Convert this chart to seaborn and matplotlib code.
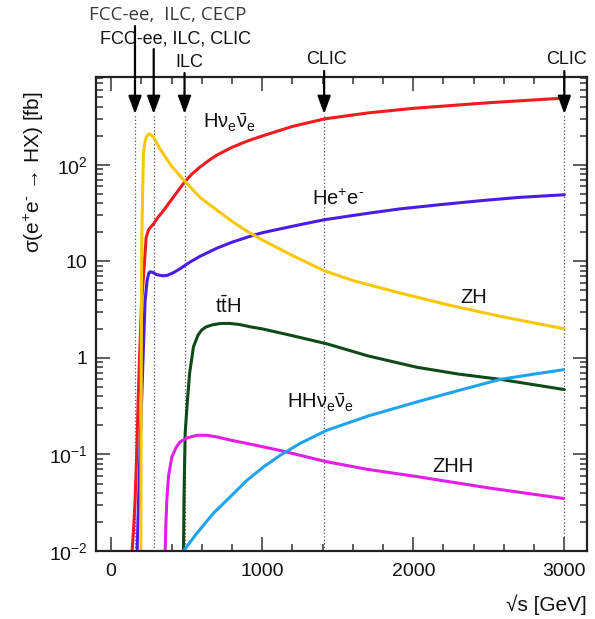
import numpy as np
import pandas as pd
import matplotlib
matplotlib.use("Agg")
import matplotlib.pyplot as plt
import seaborn as sns
from matplotlib.ticker import FixedLocator, FixedFormatter, MultipleLocator, LogLocator, NullFormatter

# ---- cross sections vs. centre-of-mass energy (GeV, fb) ----
hvv_s = [139, 150, 159, 170, 179, 190, 202, 214, 232, 247, 260, 280, 310, 346, 413, 485, 530, 589,
         650, 700, 800, 900, 1000, 1200, 1411, 1700, 2000, 2500, 3000]
hvv_sigma = [0.01, 0.018, 0.034, 0.11, 0.364, 1.2, 3.93, 6.84, 17.7, 21.0, 22.5, 24.4, 28.5, 33.5, 46.5, 66, 79, 95,
             112, 126, 152, 176, 199, 250, 299, 345, 385, 440, 492]

hee_s = [172, 182, 192, 202, 214, 225, 238, 250, 258, 275, 300, 340, 369, 410, 457, 520, 589,
         700, 800, 920, 1000, 1100, 1250, 1411, 1700, 1914, 2200, 2444, 2700, 3000]
hee_sigma = [0.01, 0.034, 0.12, 0.364, 1.3, 3.93, 6.3, 7.6, 7.8, 7.7, 7.3, 7.1, 7.15, 7.6, 8.4, 9.8, 11.3,
             13.7, 15.8, 18.2, 19.8, 21.4, 24, 27, 31.5, 35, 39, 42.5, 46, 49]

zh_s = [197, 199, 201, 205, 214, 225, 236, 254, 280, 325, 400, 485, 589, 700, 800, 900, 1000,
        1200, 1411, 1605, 1914, 2245, 2576, 3000]
zh_sigma = [0.01, 0.3, 6.8, 26, 129, 177, 199, 210, 195, 145, 97, 68.4, 45.9, 34, 26, 20.5, 16.7,
            11.5, 8.0, 6.3, 4.7, 3.5, 2.7, 2.0]

tth_s = [479, 483, 490, 505, 520, 545, 575, 600, 630, 670, 720, 780, 850, 921, 1000, 1200, 1428, 1700,
         2024, 2300, 2576, 3000]
tth_sigma = [0.01, 0.04, 0.165, 0.36, 0.7, 1.3, 1.72, 1.95, 2.1, 2.2, 2.27, 2.28, 2.22, 2.1, 2.0, 1.7, 1.4, 1.05,
             0.80, 0.68, 0.60, 0.47]

zhh_s = [358, 362, 369, 380, 402, 430, 457, 500, 568, 634, 700, 788, 921, 1119, 1428, 1700, 2024,
         2500, 2995]
zhh_sigma = [0.01, 0.018, 0.034, 0.06, 0.094, 0.118, 0.135, 0.148, 0.158, 0.158, 0.152, 0.141, 0.128,
             0.11, 0.084, 0.07, 0.059, 0.045, 0.035]

hhvv_s = [479, 568, 677, 788, 899, 1009, 1119, 1250, 1428, 1700, 2024, 2300, 2576, 2800, 2995]
hhvv_sigma = [0.01, 0.0153, 0.0246, 0.0363, 0.054, 0.0743, 0.098, 0.13, 0.178, 0.25, 0.35, 0.46, 0.6,
              0.68, 0.755]

processes = ["Hvv", "Hee", "ZH", "ttH", "ZHH", "HHvv"]
colors = {"Hvv": "#ef1b1f", "Hee": "#4a1de6", "ZH": "#f7c70c",
          "ttH": "#0f4a18", "ZHH": "#e31ee6", "HHvv": "#1fa3ec"}

# collider energies marked with arrows
marker_energies = [158, 282, 486, 1410, 3000]
marker_texts = ["FCC-ee, ILC, CLIC", "ILC", "CLIC", "CLIC"]
marker_text_x = [424, 520, 1427, 3013]
top_text = "FCC-ee,  ILC, CECP"

y_tick_vals = [1e-2, 1e-1, 1, 10, 100]
y_tick_labels = [r"$\mathregular{10^{-2}}$", r"$\mathregular{10^{-1}}$", "1", "10",
                 r"$\mathregular{10^{2}}$"]

curve_labels = [
    (r"H$\mathregular{\nu_e\bar{\nu}_e}$", 609, 10**2.372),
    ("He$\\mathregular{^{+}}$e$^{\\text{-}}$", 1331, 10**1.583),
    ("ZH", 2311, 10**0.566),
    (r"t$\mathregular{\bar{t}}$H", 689, 10**0.47),
    (r"HH$\mathregular{\nu_e\bar{\nu}_e}$", 1166, 10**-0.525),
    ("ZHH", 2126, 10**-1.18),
]

series = {"Hvv": (hvv_s, hvv_sigma), "Hee": (hee_s, hee_sigma), "ZH": (zh_s, zh_sigma),
          "ttH": (tth_s, tth_sigma), "ZHH": (zhh_s, zhh_sigma), "HHvv": (hhvv_s, hhvv_sigma)}
df = pd.concat([pd.DataFrame({"sqrt_s": series[p][0], "sigma": series[p][1], "process": p})
                for p in processes], ignore_index=True)

sns.set_theme(style="ticks")
plt.rcParams["font.family"] = ["Liberation Sans", "DejaVu Sans"]
plt.rcParams["mathtext.fontset"] = "custom"
plt.rcParams["mathtext.rm"] = "Liberation Sans"
plt.rcParams["mathtext.it"] = "Liberation Sans:italic"
plt.rcParams["mathtext.bf"] = "Liberation Sans:bold"

fig = plt.figure(figsize=(5.95, 6.19), dpi=100)
ax = fig.add_axes([96 / 595, 1 - 551 / 619, 491 / 595, 474 / 619])
ax.set_yscale("log")

sns.lineplot(data=df, x="sqrt_s", y="sigma", hue="process", hue_order=processes,
             palette=colors, estimator=None, sort=False, legend=False,
             linewidth=2.2, ax=ax)

ax.set_xlim(-100, 3150)
ax.set_ylim(1e-2, 10**2.91)

ax.xaxis.set_major_locator(FixedLocator([0, 1000, 2000, 3000]))
ax.xaxis.set_minor_locator(MultipleLocator(200))
ax.yaxis.set_major_locator(FixedLocator(y_tick_vals))
ax.yaxis.set_major_formatter(FixedFormatter(y_tick_labels))
ax.yaxis.set_minor_locator(LogLocator(base=10, subs=np.arange(2, 10), numticks=20))
ax.yaxis.set_minor_formatter(NullFormatter())
ax.tick_params(which="both", direction="in", top=True, right=True,
               color="#333333", width=1.1, labelsize=14, labelcolor="#111111")
ax.tick_params(which="major", length=10)
ax.tick_params(which="minor", length=5)
ax.tick_params(axis="x", pad=9)
ax.tick_params(axis="y", pad=6)
for sp in ax.spines.values():
    sp.set_color("#222222")
    sp.set_linewidth(1.6)

ax.set_xlabel("√s [GeV]", fontsize=15, color="#111111")
ax.xaxis.label.set_ha("right")
ax.xaxis.label.set_va("center")
ax.xaxis.set_label_coords(1.0, -0.114)
ax.set_ylabel("σ(e$\\mathregular{^{+}}$e$^{\\text{-}}$ → HX) [fb]", fontsize=15, color="#111111")
ax.yaxis.label.set_va("center")
ax.yaxis.set_label_coords(-0.126, 0.80)

# dotted energy markers and arrows
tip = 10**2.527
ax.vlines(marker_energies, 1e-2, tip, colors="#555555", linestyles=(0, (1, 1.8)), lw=0.9, zorder=1)
tails = [10**3.437, 10**3.199, 10**2.951, 10**2.972, 10**2.972]
for e, t in zip(marker_energies, tails):
    ax.annotate("", xy=(e, tip), xytext=(e, t), annotation_clip=False,
                arrowprops=dict(arrowstyle="-|>,head_length=0.9,head_width=0.33",
                                color="black", lw=1.6, shrinkA=0, shrinkB=0))

ax.text(374, 10**3.55, top_text, ha="center", va="center", fontsize=13.5,
        family=["Open Sans", "DejaVu Sans"], color="#3a3a3a", clip_on=False)
ys_marker = [10**3.302, 10**3.065, 10**3.096, 10**3.096]
for txt, xv, yv in zip(marker_texts, marker_text_x, ys_marker):
    ax.text(xv, yv, txt, ha="center", va="center", fontsize=13, color="#111111", clip_on=False)

for txt, xv, yv in curve_labels:
    ax.text(xv, yv, txt, ha="left", va="baseline", fontsize=14.5, color="#111111")

fig.savefig("out.png", dpi=100)
